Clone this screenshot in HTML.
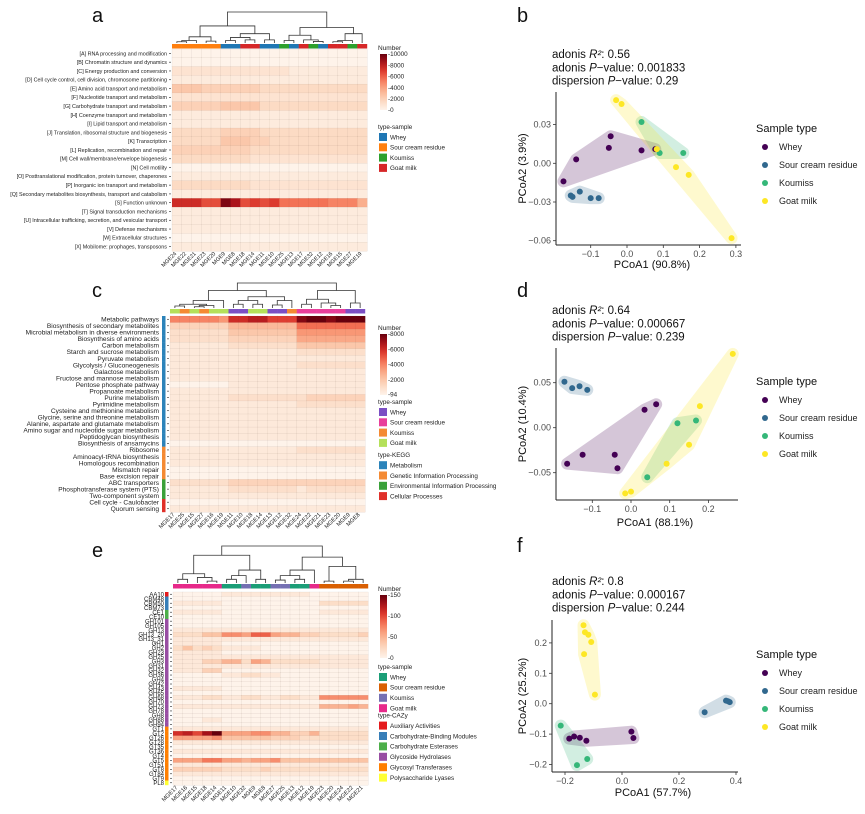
<!DOCTYPE html>
<html><head><meta charset="utf-8"><style>
html,body{margin:0;padding:0;background:#fff;}
svg{display:block;font-family:"Liberation Sans",sans-serif;}
</style></head><body>
<svg id="fig" width="865" height="814" viewBox="0 0 865 814" xmlns="http://www.w3.org/2000/svg"></svg>
<script>
// ---------- DATA ----------
const aCols=["MGE24","MGE22","MGE21","MGE23","MGE20","MGE9","MGE8","MGE18","MGE14","MGE11","MGE10","MGE25","MGE13","MGE17","MGE32","MGE12","MGE16","MGE15","MGE27","MGE19"];
const aGroups=[1,1,1,1,1,0,0,3,3,0,0,2,0,3,2,0,3,3,2,3];
const aRowNames=["[A] RNA processing and modification","[B] Chromatin structure and dynamics","[C] Energy production and conversion","[D] Cell cycle control, cell division, chromosome partitioning","[E] Amino acid transport and metabolism","[F] Nucleotide transport and metabolism","[G] Carbohydrate transport and metabolism","[H] Coenzyme transport and metabolism","[I] Lipid transport and metabolism","[J] Translation, ribosomal structure and biogenesis","[K] Transcription","[L] Replication, recombination and repair","[M] Cell wall/membrane/envelope biogenesis","[N] Cell motility","[O] Posttranslational modification, protein turnover, chaperones","[P] Inorganic ion transport and metabolism","[Q] Secondary metabolites biosynthesis, transport and catabolism","[S] Function unknown","[T] Signal transduction mechanisms","[U] Intracellular trafficking, secretion, and vesicular transport","[V] Defense mechanisms","[W] Extracellular structures","[X] Mobilome: prophages, transposons"];
const aValues=["00000000000000000000","00000000000000000000","22222222222211111111","11111111111111111111","55544444433333333333","22222222222222222222","44444555533333333333","11111111111111111111","11111111111111111111","33333444433333333333","33333555443333333333","44444444333333333333","33333333222222222222","00000000000000000000","11111111111111111111","33333333222222222222","11111111111111111111","fffddjhdedebbbbbaaa7","11111111111111111111","11111111111111111111","11111111111111111111","00000000000000000000","11111111111111111111"];
const aUnit=500, aMax=10000;

const cCols=["MGE17","MGE25","MGE15","MGE27","MGE16","MGE19","MGE11","MGE10","MGE18","MGE14","MGE13","MGE12","MGE32","MGE24","MGE22","MGE21","MGE23","MGE20","MGE9","MGE8"];
const cGroups=[3,2,3,2,3,3,0,0,3,3,0,0,2,1,1,1,1,1,0,0];
const cRowNames=["Metabolic pathways","Biosynthesis of secondary metabolites","Microbial metabolism in diverse environments","Biosynthesis of amino acids","Carbon metabolism","Starch and sucrose metabolism","Pyruvate metabolism","Glycolysis / Gluconeogenesis","Galactose metabolism","Fructose and mannose metabolism","Pentose phosphate pathway","Propanoate metabolism","Purine metabolism","Pyrimidine metabolism","Cysteine and methionine metabolism","Glycine, serine and threonine metabolism","Alanine, aspartate and glutamate metabolism","Amino sugar and nucleotide sugar metabolism","Peptidoglycan biosynthesis","Biosynthesis of ansamycins","Ribosome","Aminoacyl-tRNA biosynthesis","Homologous recombination","Mismatch repair","Base excision repair","ABC transporters","Phosphotransferase system (PTS)","Two-component system","Cell cycle - Caulobacter","Quorum sensing"];
const cRowCat=[0,0,0,0,0,0,0,0,0,0,0,0,0,0,0,0,0,0,0,0,1,1,1,1,1,2,2,2,3,3];
const cValues=["888887ccddbbbfggfggg","33333355555559999999","22222244444447777777","22222233333336666666","11111122222224444444","11111111111112222222","11111111111111111111","11111111111112222222","11111111111111111111","11111111111111111111","00000011111111111111","11111111111111111111","11111122222222333333","11111111111112222222","11111111111111111111","11111111111111111111","11111111111111111111","11111111111111111111","11111111111111111111","00000000000000000000","11111111111112222222","11111111111111111111","11111111111111111111","00000000000000000000","00000000000000000000","22222233333333333333","11111122222221222222","11111111111111111111","00000000000000000000","11111111111111111111"];
const cUnit=500, cMax=8000;

const eCols=["MGE17","MGE16","MGE15","MGE18","MGE14","MGE11","MGE10","MGE32","MGE9","MGE8","MGE27","MGE25","MGE13","MGE12","MGE19","MGE23","MGE20","MGE24","MGE22","MGE21"];
const eGroups=[3,3,3,3,3,0,0,2,0,0,2,2,0,0,3,1,1,1,1,1];
const eRowNames=["AA10","CBM48","CBM50","CBM73","CE1","CE10","GH101","GH105","GH13","GH13_20","GH13_31","GH1","GH2","GH23","GH25","GH3","GH31","GH32","GH36","GH4","GH42","GH43","GH65","GH68","GH70","GH73","GH78","GH8","GH88","GH94","GT1","GT2","GT26","GT28","GT35","GT36","GT4","GT5","GT51","GT8","GT84","GT9","PL8"];
const eRowCat=[0,1,1,1,2,2,3,3,3,3,3,3,3,3,3,3,3,3,3,3,3,3,3,3,3,3,3,3,3,3,4,4,4,4,4,4,4,4,4,4,4,4,5];
const eValues=["00000111111111000000","00000000000000000000","11111000000000022222","00000000000000000000","11111000000000011111","00000000000000000000","00000000000000000000","00000000000000000000","11111111111111111111","22244776996553322223","11111111111111111111","11111000000000000000","24232111100000000000","11111000000000000000","11111111111111111111","11133552652222211111","11111111111111111111","11133000000000000000","00000112211000000000","00000000000000000000","00000000000000000000","11111000000000000000","00000000000000000000","11122112211221177777","00000000000000000000","11111111111111155565","00000000000000000000","00000000000000000000","00011000000000000000","00000000000000000000","11111111111111111111","bcadf666775533522222","66667444443332222222","11111111111111111111","00000000000000000000","11111111111111111111","00000000000000000000","66688665667444444444","11111111111111111111","33333222232222222222","11111111111111111111","00000000000000000000","00000000000000000000"];
const eUnit=10, eMax=150;

const aTree=[1,[0.55,[0.2,[0.08,[0.04,0,1],2],[0.06,3,4]],[0.3,[0.18,[0.08,5,6],[0.1,7,8]],[0.1,9,10]]],[0.5,[0.25,[0.08,11,12],[0.1,13,[0.05,14,15]]],[0.3,[0.08,[0.04,16,17],18],19]]];
const cTree=[1,[0.7,[0.3,[0.15,[0.08,0,1],[0.1,[0.05,2,3],4]],5],[0.45,[0.3,[0.15,6,7],[0.15,8,9]],[0.3,[0.12,10,11],12]]],[0.7,[0.35,[0.15,13,14],[0.2,15,[0.1,16,17]]],[0.2,18,19]]];
const eTree=[1,[0.75,[0.25,[0.1,0,1],[0.15,2,[0.05,3,4]]],[0.35,[0.2,[0.1,5,6],7],[0.1,8,9]]],[0.7,[0.35,[0.2,[0.08,10,11],[0.1,12,13]],14],[0.45,[0.05,15,16],[0.1,[0.05,17,18],19]]]];

// scatter data
const groupNames=["Whey","Sour cream residue","Koumiss","Goat milk"];
const bX=[[-0.175,-0.14,-0.05,-0.045,0.04,0.078],[-0.155,-0.15,-0.13,-0.1,-0.078],[0.04,0.09,0.155],[-0.03,-0.015,0.082,0.135,0.17,0.288]];
const bY=[[-0.014,0.003,0.012,0.021,0.010,0.011],[-0.025,-0.026,-0.022,-0.027,-0.027],[0.032,0.008,0.008],[0.049,0.046,0.011,-0.003,-0.009,-0.058]];
const dX=[[-0.165,-0.125,-0.042,-0.035,0.035,0.065],[-0.172,-0.152,-0.133,-0.113],[0.042,0.12,0.168],[-0.015,0.0,0.092,0.15,0.178,0.263]];
const dY=[[-0.04,-0.03,-0.03,-0.045,0.02,0.026],[0.051,0.044,0.046,0.042],[-0.055,0.005,0.008],[-0.073,-0.071,-0.04,-0.019,0.024,0.082]];
const fX=[[-0.185,-0.168,-0.148,-0.125,0.033,0.04],[0.29,0.365,0.372,0.378],[-0.215,-0.158,-0.122],[-0.135,-0.13,-0.118,-0.108,-0.133,-0.095]];
const fY=[[-0.115,-0.108,-0.112,-0.122,-0.092,-0.113],[-0.028,0.01,0.008,0.005],[-0.072,-0.202,-0.182],[0.258,0.235,0.227,0.203,0.163,0.03]];
const bXTicks=[-0.1,0.0,0.1,0.2,0.3], bYTicks=[0.03,0.00,-0.03,-0.06];
const dXTicks=[-0.1,0.0,0.1,0.2], dYTicks=[0.05,0.00,-0.05];
const fXTicks=[-0.2,0.0,0.2,0.4], fYTicks=[0.2,0.1,0.0,-0.1,-0.2];

// ---------- HELPERS ----------
const NS="http://www.w3.org/2000/svg";
const svg=document.getElementById('fig');
function el(tag,attrs,parent,text){const e=document.createElementNS(NS,tag);for(const k in attrs)e.setAttribute(k,attrs[k]);if(text!==undefined)e.textContent=text;(parent||svg).appendChild(e);return e;}
function hex(h){return [parseInt(h.slice(1,3),16),parseInt(h.slice(3,5),16),parseInt(h.slice(5,7),16)];}
const stops=['#fef3ea','#fcdcc6','#fbc0a0','#f99a78','#f26b4f','#d9342a','#a9121a','#67000d'].map(hex);
function colorScale(t){t=Math.max(0,Math.min(1,t));const p=t*(stops.length-1);const i=Math.min(stops.length-2,Math.floor(p));const f=p-i;const a=stops[i],b=stops[i+1];return 'rgb('+[0,1,2].map(k=>Math.round(a[k]+(b[k]-a[k])*f)).join(',')+')';}
const defs=el('defs',{});
function gradient(id){const lg=el('linearGradient',{id:id,x1:0,y1:1,x2:0,y2:0},defs);for(let i=0;i<=10;i++)el('stop',{offset:(i*10)+'%','stop-color':colorScale(i/10)},lg);}
gradient('gradHeat');

function heatmap(o){
  const g=el('g',{});
  
  
  const nC=o.cols.length,nR=o.rows.length;
  const cw=(o.x1-o.x0)/nC, rh=(o.y1-o.y0)/nR;
  const colX=i=>o.x0+i*cw, rowY=j=>o.y0+j*rh;
  for(let j=0;j<nR;j++){for(let i=0;i<nC;i++){
    const v=parseInt(o.values[j][i],36)*o.unit;
    const r=el('rect',{x:colX(i),y:rowY(j),width:cw+0.3,height:rh+0.3,fill:colorScale(v/o.max),stroke:'rgba(90,60,50,0.18)','stroke-width':0.3},g);
    
    
  }}
  for(let i=0;i<nC;i++){
    const s=el('rect',{x:colX(i),y:o.stripY,width:cw+0.2,height:o.stripH,fill:o.groupColors[o.groups[i]]},g);
    
    
    const lx=colX(i)+cw/2, ly=o.y1+3;
    const t=el('text',{x:lx,y:ly,'font-size':o.colFont,'text-anchor':'end',transform:`rotate(-45 ${lx} ${ly})`,fill:'#222'},g,o.cols[i]);
    
    
  }
  for(let j=0;j<nR;j++){
    const cy=rowY(j)+rh/2;
    el('line',{x1:o.x0-3,x2:o.x0-1,y1:cy,y2:cy,stroke:'#222','stroke-width':0.6},g);
    const t=el('text',{x:o.labelX,y:cy+o.rowFont*0.35,'font-size':o.rowFont,'text-anchor':'end',fill:'#222'},g,o.rows[j]);
    
    
    if(o.rowCat){const s=el('rect',{x:o.catX,y:rowY(j),width:3.5,height:rh+0.2,fill:o.catColors[o.rowCat[j]]},g);
      
      }
  }
  const base=o.stripY-1, top=o.dendTop;
  const hy=h=>base-h*(base-top);
  function draw(n){
    if(typeof n==='number')return {x:colX(n)+cw/2,y:base};
    if(!Array.isArray(n))return null;
    const L=draw(n[1]),R=draw(n[2]),y=hy(n[0]);
    if(!L&&!R)return null;
    if(!L||!R)return L||R;
    el('path',{d:`M${L.x},${L.y}V${y}H${R.x}V${R.y}`,fill:'none',stroke:'#333','stroke-width':0.8},g);
    return {x:(L.x+R.x)/2,y:y};
  }
  draw(o.tree);
  return g;
}
function heatLegend(o){
  const g=el('g',{});
  
  
  el('text',{x:o.x-2,y:o.y,'font-size':6.5,fill:'#222'},g,'Number');
  el('rect',{x:o.x,y:o.barTop,width:7,height:o.barBot-o.barTop,fill:'url(#gradHeat)'},g);
  o.ticks.forEach(tk=>{const y=o.barBot-(tk[0]/o.max)*(o.barBot-o.barTop);
    el('text',{x:o.x+8,y:y+2.2,'font-size':6.3,fill:'#222'},g,'-'+tk[1]);});
  let y=o.secY;
  o.sections.forEach(sec=>{
    el('text',{x:o.x-2,y:y,'font-size':6.3,fill:'#222'},g,sec.title);
    y+=4;
    sec.items.forEach((it,i)=>{
      const r=el('rect',{x:o.x-1,y:y,width:8,height:8,fill:sec.colors[i]},g);
      
      
      el('text',{x:o.x+10,y:y+6.3,'font-size':6.3,fill:'#222'},g,it);
      y+=o.step;
    });
    y+=o.gap;
  });
}
function hull(pts){
  pts=pts.slice().sort((a,b)=>a[0]-b[0]||a[1]-b[1]);
  const cr=(o,a,b)=>(a[0]-o[0])*(b[1]-o[1])-(a[1]-o[1])*(b[0]-o[0]);
  const lo=[],up=[];
  for(const p of pts){while(lo.length>=2&&cr(lo[lo.length-2],lo[lo.length-1],p)<=0)lo.pop();lo.push(p);}
  for(let i=pts.length-1;i>=0;i--){const p=pts[i];while(up.length>=2&&cr(up[up.length-2],up[up.length-1],p)<=0)up.pop();up.push(p);}
  up.pop();lo.pop();return lo.concat(up);
}
const vir=['#440154','#31688e','#35b779','#fde725'];
function scatter(o){
  const g=el('g',{});
  
  
  const sx=v=>o.x0+v*o.kx, sy=v=>o.y0-v*o.ky;
  o.stats.forEach((s,i)=>{const t=el('text',{x:o.tx,y:o.ty+i*13.3,'font-size':11.5,fill:'#111'},g);
    
    
    el('tspan',{},t,s[0]);el('tspan',{'font-style':'italic'},t,s[1]);el('tspan',{},t,s[2]);});
  o.X.forEach((xs,gi)=>{
    const pts=xs.map((x,i)=>[sx(x),sy(o.Y[gi][i])]);
    const h=hull(pts);
    const hg=el('g',{opacity:0.22},g);
    const p=el('path',{d:'M'+h.map(q=>q.join(',')).join('L')+'Z',fill:vir[gi],stroke:vir[gi],'stroke-width':o.pad,'stroke-linejoin':'round'},hg);
    
    
  });
  o.X.forEach((xs,gi)=>xs.forEach((x,i)=>{
    const c=el('circle',{cx:sx(x),cy:sy(o.Y[gi][i]),r:3,fill:vir[gi]},g);
    
    
  }));
  el('line',{x1:o.left,x2:o.left,y1:o.top,y2:o.bottom,stroke:'#222','stroke-width':1},g);
  el('line',{x1:o.left,x2:o.right,y1:o.bottom,y2:o.bottom,stroke:'#222','stroke-width':1},g);
  o.xt.forEach(v=>{const x=sx(v);el('line',{x1:x,x2:x,y1:o.bottom,y2:o.bottom+3,stroke:'#333','stroke-width':0.8},g);
    const t=el('text',{x:x,y:o.bottom+12,'font-size':9,'text-anchor':'middle',fill:'#4d4d4d'},g,(v<0?'\u2212':'')+Math.abs(v).toFixed(1));
    });
  o.yt.forEach(v=>{const y=sy(v);el('line',{x1:o.left-3,x2:o.left,y1:y,y2:y,stroke:'#333','stroke-width':0.8},g);
    const t=el('text',{x:o.left-5,y:y+3,'font-size':9,'text-anchor':'end',fill:'#4d4d4d'},g,(v<0?'\u2212':'')+Math.abs(v).toFixed(o.yd));
    });
  const xt=el('text',{x:o.xtX,y:o.xtY,'font-size':11,'text-anchor':'middle',fill:'#111'},g,o.xTitle);
  
  const yc=(o.top+o.bottom)/2;
  const yt=el('text',{x:526,y:yc,'font-size':11,'text-anchor':'middle',fill:'#111',transform:`rotate(-90 526 ${yc})`},g,o.yTitle);
  
  const lt=el('text',{x:756,y:o.legY+4,'font-size':11,fill:'#111'},g,'Sample type');
  
  groupNames.forEach((n,i)=>{const y=o.legY+19+i*18;
    const c=el('circle',{cx:765,cy:y,r:3,fill:vir[i]},g);
    
    el('text',{x:779,y:y+3,'font-size':9,fill:'#222'},g,n);});
}

// ---------- PANEL LETTERS ----------
[['a',92,22],['c',92,297],['e',92,557],['b',517,22],['d',517,297],['f',517,552]].forEach(l=>{
  const t=el('text',{x:l[1],y:l[2],'font-size':20,fill:'#111'},svg,l[0]);
  });

// ---------- PANEL A ----------
heatmap({name:'heatmap-cog',cols:aCols,groups:aGroups,rows:aRowNames,values:aValues,unit:aUnit,max:aMax,
  x0:172,x1:367,y0:49,y1:251,stripY:44,stripH:4.5,dendTop:12,labelX:167,rowFont:5.4,colFont:5.6,
  groupColors:['#1f77b4','#ff7f0e','#2ca02c','#d62728'],tree:aTree});
heatLegend({name:'legend-cog',x:380,y:50,barTop:54,barBot:110,max:10000,
  ticks:[[10000,'10000'],[8000,'8000'],[6000,'6000'],[4000,'4000'],[2000,'2000'],[0,'0']],
  secY:129,step:10.3,gap:4,sections:[{title:'type-sample',items:['Whey','Sour cream residue','Koumiss','Goat milk'],colors:['#1f77b4','#ff7f0e','#2ca02c','#d62728']}]});

// ---------- PANEL C ----------
heatmap({name:'heatmap-kegg',cols:cCols,groups:cGroups,rows:cRowNames,values:cValues,unit:cUnit,max:cMax,
  x0:170,x1:365,y0:316,y1:512,stripY:309,stripH:4.5,dendTop:283,labelX:159,rowFont:6.6,colFont:5.8,
  groupColors:['#7b4fc4','#e83f9b','#f48a33','#b4e05a'],tree:cTree,
  rowCat:cRowCat,catX:162,catColors:['#2b83ba','#f48a33','#3aa13a','#e0302a']});
heatLegend({name:'legend-kegg',x:380,y:330,barTop:334,barBot:395,max:8000,
  ticks:[[8000,'8000'],[6000,'6000'],[4000,'4000'],[2000,'2000'],[94,'94']],
  secY:404,step:10.3,gap:8,sections:[
   {title:'type-sample',items:['Whey','Sour cream residue','Koumiss','Goat milk'],colors:['#7b4fc4','#e83f9b','#f48a33','#b4e05a']},
   {title:'type-KEGG',items:['Metabolism','Genetic Information Processing','Environmental Information Processing','Cellular Processes'],colors:['#2b83ba','#f48a33','#3aa13a','#e0302a']}]});

// ---------- PANEL E ----------
heatmap({name:'heatmap-cazy',cols:eCols,groups:eGroups,rows:eRowNames,values:eValues,unit:eUnit,max:eMax,
  x0:173,x1:368,y0:592,y1:785,stripY:584,stripH:4.5,dendTop:546,labelX:164,rowFont:6,colFont:5.8,
  groupColors:['#1b9e77','#d95f02','#7570b3','#e7298a'],tree:eTree,
  rowCat:eRowCat,catX:165,catColors:['#e41a1c','#377eb8','#4daf4a','#984ea3','#ff7f00','#ffff33']});
heatLegend({name:'legend-cazy',x:380,y:591,barTop:595,barBot:658,max:150,
  ticks:[[150,'150'],[100,'100'],[50,'50'],[0,'0']],
  secY:669,step:10.4,gap:3,sections:[
   {title:'type-sample',items:['Whey','Sour cream residue','Koumiss','Goat milk'],colors:['#1b9e77','#d95f02','#7570b3','#e7298a']},
   {title:'type-CAZy',items:['Auxiliary Activities','Carbohydrate-Binding Modules','Carbohydrate Esterases','Glycoside Hydrolases','Glycosyl Transferases','Polysaccharide Lyases'],colors:['#e41a1c','#377eb8','#4daf4a','#984ea3','#ff7f00','#ffff33']}]});

// ---------- SCATTERS ----------
scatter({name:'pcoa-cog',X:bX,Y:bY,x0:627,kx:363,y0:163.3,ky:1290,left:556,right:741,top:92,bottom:245,
  xt:bXTicks,yt:bYTicks,yd:2,xTitle:'PCoA1 (90.8%)',yTitle:'PCoA2 (3.9%)',xtX:652,xtY:268,legY:128,pad:12,
  tx:552,ty:58,stats:[['adonis ','R²',': 0.56'],['adonis ','P','\u2212value: 0.001833'],['dispersion ','P','\u2212value: 0.29']]});
scatter({name:'pcoa-kegg',X:dX,Y:dY,x0:631,kx:387,y0:427.7,ky:900,left:556,right:738,top:348,bottom:500,
  xt:dXTicks,yt:dYTicks,yd:2,xTitle:'PCoA1 (88.1%)',yTitle:'PCoA2 (10.4%)',xtX:655,xtY:526,legY:381,pad:12,
  tx:552,ty:314,stats:[['adonis ','R²',': 0.64'],['adonis ','P','\u2212value: 0.000667'],['dispersion ','P','\u2212value: 0.239']]});
scatter({name:'pcoa-cazy',X:fX,Y:fY,x0:622,kx:285,y0:703.7,ky:304,left:552,right:738,top:620,bottom:772,
  xt:fXTicks,yt:fYTicks,yd:1,xTitle:'PCoA1 (57.7%)',yTitle:'PCoA2 (25.2%)',xtX:653,xtY:796,legY:654,pad:12,
  tx:552,ty:585,stats:[['adonis ','R²',': 0.8'],['adonis ','P','\u2212value: 0.000167'],['dispersion ','P','\u2212value: 0.244']]});
</script>
</body></html>
